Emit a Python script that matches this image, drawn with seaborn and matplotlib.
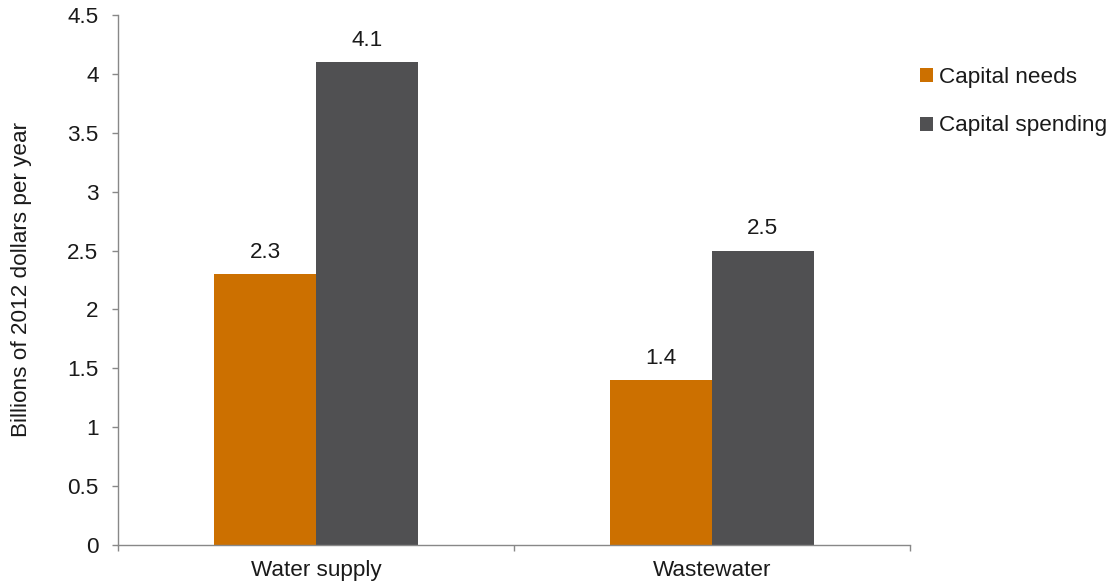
import pandas as pd
import matplotlib
matplotlib.use("Agg")
import matplotlib.pyplot as plt
import seaborn as sns

categories = ["Water supply", "Wastewater"]
series = ["Capital needs", "Capital spending"]
capital_needs = [2.3, 1.4]
capital_spending = [4.1, 2.5]
colors = ["#CC7000", "#505052"]

df = pd.DataFrame({
    "category": categories * 2,
    "series": [series[0]] * 2 + [series[1]] * 2,
    "value": capital_needs + capital_spending,
})

FS = 16.2
TXT = "#1a1a1a"

sns.set_style("white")
plt.rcParams["font.family"] = ["Liberation Sans", "DejaVu Sans"]
plt.rcParams["font.size"] = FS

fig = plt.figure(figsize=(11.08, 5.83), dpi=100)
ax = fig.add_axes([0.1065, 0.0652, 0.8213 - 0.1065, 0.9743 - 0.0652])

sns.barplot(data=df, x="category", y="value", hue="series", palette=colors,
            width=0.515, gap=0, saturation=1, ax=ax, legend=True,
            edgecolor="none", linewidth=0)

for cont in ax.containers:
    ax.bar_label(cont, fmt="%.1f", padding=8, fontsize=FS, color=TXT)

ax.set_ylim(0, 4.5)
ax.set_yticks([0, 0.5, 1, 1.5, 2, 2.5, 3, 3.5, 4, 4.5])
ax.set_yticklabels(["0", "0.5", "1", "1.5", "2", "2.5", "3", "3.5", "4", "4.5"])
ax.set_xlim(-0.5, 1.5)
ax.set_xticks([-0.5, 0.5, 1.5], minor=True)
ax.tick_params(axis="x", which="major", length=0, pad=11, labelsize=FS, labelcolor=TXT)
ax.tick_params(axis="x", which="minor", length=4, width=1, color="#888888", direction="out", bottom=True)
ax.tick_params(axis="y", length=4, width=1, color="#888888", direction="out", left=True,
               labelsize=FS, labelcolor=TXT, pad=10)

for s in ["top", "right"]:
    ax.spines[s].set_visible(False)
for s in ["left", "bottom"]:
    ax.spines[s].set_color("#888888")
    ax.spines[s].set_linewidth(1)

ax.set_xlabel("")
ax.set_ylabel("Billions of 2012 dollars per year", fontsize=FS, color=TXT)
ax.yaxis.set_label_coords(-0.108, 0.5)

leg = ax.legend(loc="upper left", bbox_to_anchor=(0.987, 0.94), frameon=False,
                handlelength=0.58, handleheight=0.58, handletextpad=0.25,
                labelspacing=1.22, fontsize=FS)
for t in leg.get_texts():
    t.set_color(TXT)

fig.savefig("out.png", dpi=100)
